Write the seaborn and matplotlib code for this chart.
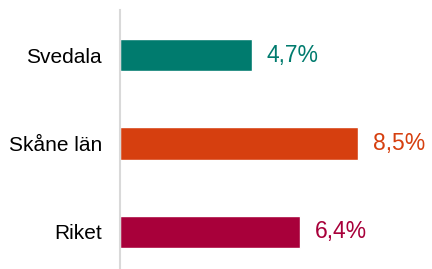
import matplotlib
matplotlib.use("Agg")
import matplotlib.pyplot as plt
import seaborn as sns
import pandas as pd

categories = ["Svedala", "Skåne län", "Riket"]
values = [4.7, 8.5, 6.4]
value_labels = ["4,7%", "8,5%", "6,4%"]
colors = ["#007B6E", "#D63F0F", "#A8003A"]

sns.set_style("white")
plt.rcParams['font.family'] = ['Liberation Sans', 'DejaVu Sans']

df = pd.DataFrame({"cat": categories, "val": values})

fig = plt.figure(figsize=(4.32, 2.69), dpi=100)
ax = fig.add_axes([120 / 432, 0, 312 / 432, 259 / 269])
sns.barplot(data=df, x="val", y="cat", hue="cat", palette=colors, width=0.365,
            legend=False, ax=ax, saturation=1)

ax.set_xlim(0, 312 / 28.05)
ax.set_ylim(2.42, -0.51)
ax.set_xlabel("")
ax.set_ylabel("")
ax.set_xticks([])
for s in ["top", "right", "bottom"]:
    ax.spines[s].set_visible(False)
ax.spines["left"].set_color("#D9D9D9")
ax.spines["left"].set_linewidth(1.5)
ax.tick_params(axis="y", length=0, pad=13, labelsize=15, labelcolor="#000000")

for i, (v, lab, c) in enumerate(zip(values, value_labels, colors)):
    ax.annotate(lab, xy=(v, i), xytext=(15, 0), textcoords="offset pixels",
                va="center", ha="left", fontsize=16.5, color=c)

fig.savefig("out.png", dpi=100)
